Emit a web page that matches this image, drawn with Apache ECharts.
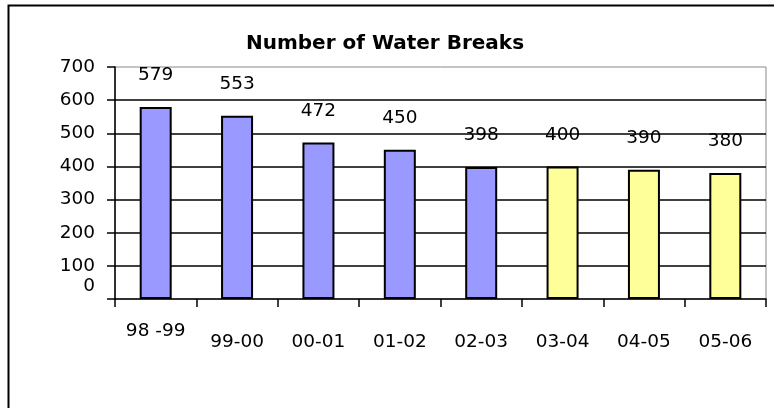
<!DOCTYPE html>
<html>
<head>
<meta charset="utf-8">
<script src="https://cdn.jsdelivr.net/npm/echarts@6/dist/echarts.min.js"></script>
<style>
  html, body { margin: 0; padding: 0; background: #fff; }
  #chart { width: 774px; height: 408px; }
</style>
</head>
<body>
<div id="chart"></div>
<script>
const seasons = ['98 -99', '99-00', '00-01', '01-02', '02-03', '03-04', '04-05', '05-06'];
const breaks = [579, 553, 472, 450, 398, 400, 390, 380];
// first five seasons are blue, last three yellow
const actualCount = 5;
const yTicks = [0, 100, 200, 300, 400, 500, 600, 700];

const font = 'DejaVu Sans';
const fs = 18.5;
const chart = echarts.init(document.getElementById('chart'));

chart.setOption({
  backgroundColor: '#fff',
  animation: false,
  title: {
    text: 'Number of Water Breaks',
    left: 380, top: 29, textAlign: 'center',
    textStyle: { fontFamily: font, fontSize: 20, fontWeight: 'bold', color: '#000' }
  },
  graphic: [{
    type: 'rect', left: 6, top: 3, silent: true,
    shape: { width: 820, height: 460 },
    style: { fill: 'none', stroke: '#000', lineWidth: 2 }
  }],
  grid: {
    left: 115, top: 67, right: 8, bottom: 109,
    show: true, borderColor: '#888', borderWidth: 1, backgroundColor: 'transparent'
  },
  xAxis: {
    type: 'category', data: seasons,
    axisLine: { lineStyle: { color: '#000', width: 1.5 } },
    axisTick: { show: true, length: 8, alignWithLabel: false, lineStyle: { color: '#000', width: 1.5 } },
    axisLabel: {
      interval: 0, margin: 21, color: '#000', fontFamily: font, fontSize: fs,
      formatter: (v, i) => i === 0 ? '{a|' + v + '}' : '{b|' + v + '}',
      rich: {
        a: { fontFamily: font, fontSize: fs, color: '#000', lineHeight: 22 },
        b: { fontFamily: font, fontSize: fs, color: '#000', lineHeight: 44 }
      }
    }
  },
  yAxis: {
    type: 'value', min: yTicks[0], max: yTicks[yTicks.length - 1], interval: 100,
    axisLine: { show: true, lineStyle: { color: '#000', width: 1.5 } },
    axisTick: { show: true, length: 8, lineStyle: { color: '#000', width: 1.5 } },
    splitLine: { show: true, showMinLine: false, showMaxLine: false, lineStyle: { color: '#000', width: 1.6 } },
    axisLabel: {
      margin: 20, color: '#000', fontFamily: font, fontSize: fs,
      showMinLabel: true, showMaxLabel: true,
      formatter: v => v === 0 ? '{z|0}' : '{n|' + v + '}',
      rich: {
        n: { fontFamily: font, fontSize: fs, color: '#000', lineHeight: 18 },
        z: { fontFamily: font, fontSize: fs, color: '#000', lineHeight: 18, padding: [0, 0, 26, 0] }
      }
    }
  },
  series: [{
    type: 'bar',
    barWidth: 32,
    data: breaks.map((v, i) => ({
      value: v,
      itemStyle: { color: i < actualCount ? '#9999ff' : '#ffff99' }
    })),
    itemStyle: { borderColor: '#000', borderWidth: 2 },
    label: {
      show: true, position: 'top', distance: 22,
      color: '#000', fontFamily: font, fontSize: fs
    }
  }]
});
</script>
</body>
</html>
